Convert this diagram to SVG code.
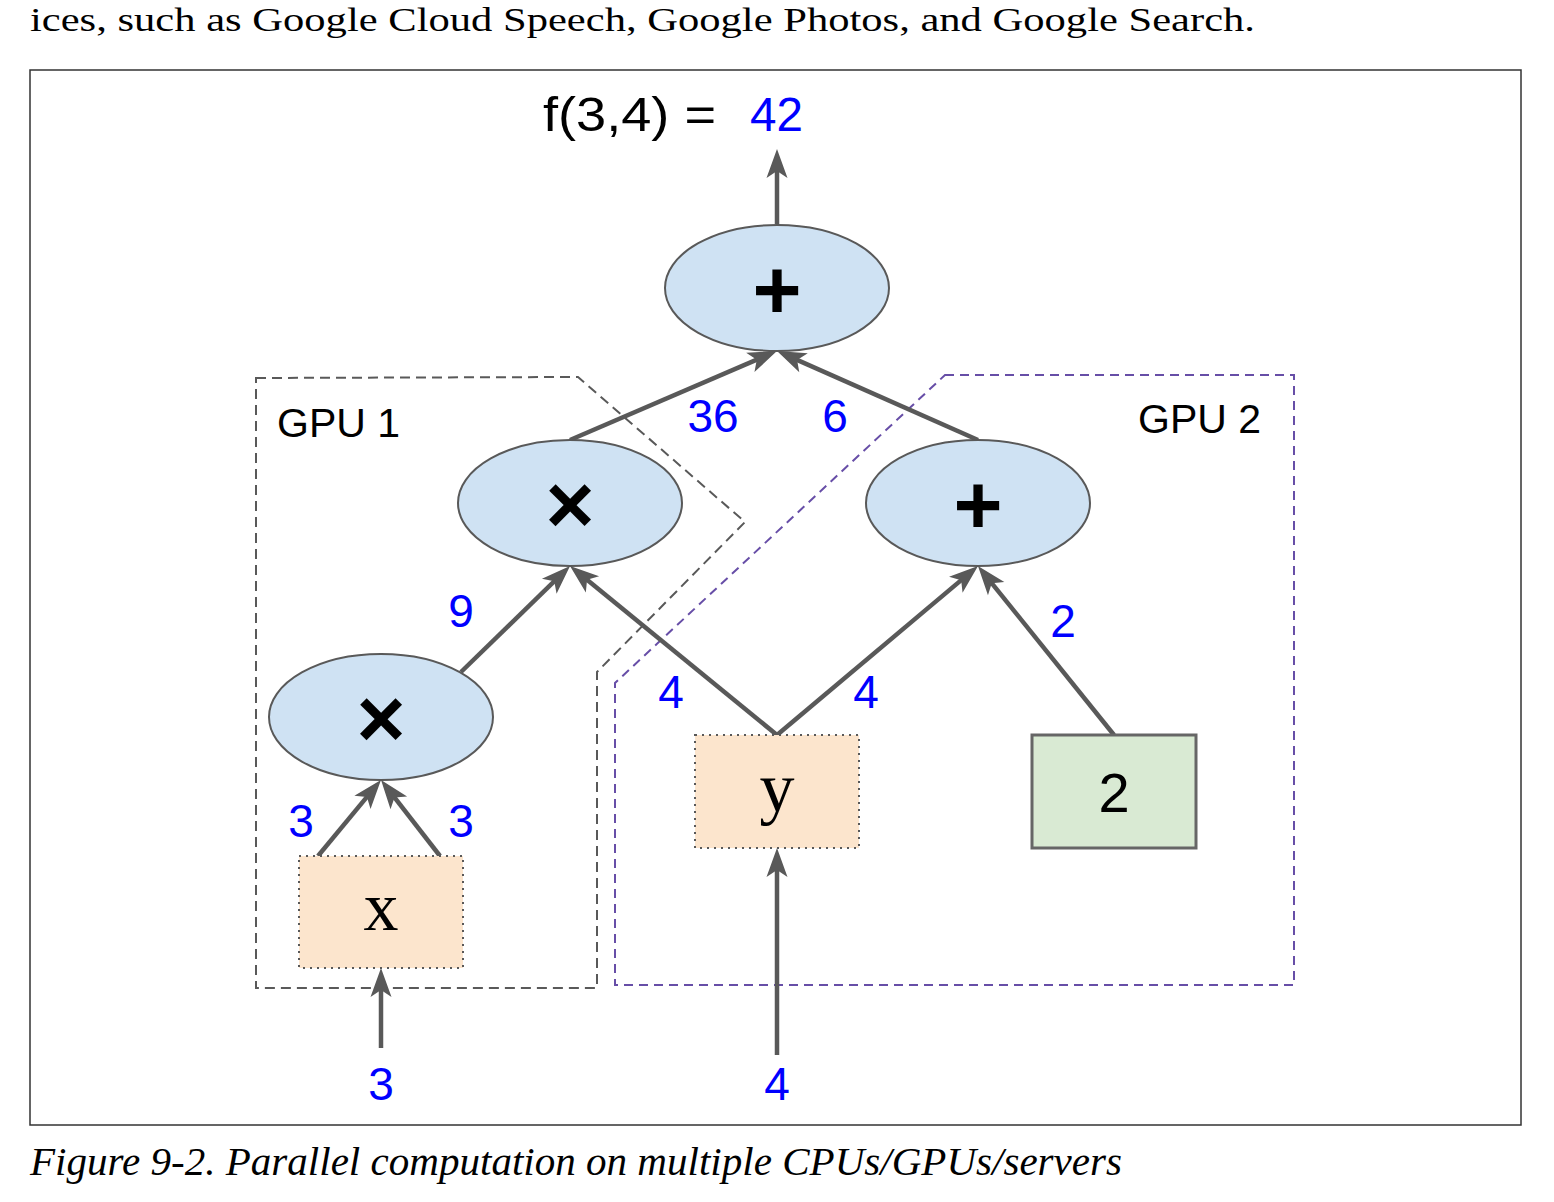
<svg xmlns="http://www.w3.org/2000/svg" width="1554" height="1202" viewBox="0 0 1554 1202">
<style>
.bg{fill:#ffffff}
.frame{fill:none;stroke:#333333;stroke-width:1.5}
.op{fill:#cfe2f3;stroke:#595959;stroke-width:2}
.var{fill:#fce5cd;stroke:#595959;stroke-width:2;stroke-dasharray:2 5}
.const{fill:#d9ead3;stroke:#666666;stroke-width:3}
.edge{fill:none;stroke:#595959;stroke-width:4.5}
.gpu1{fill:none;stroke:#595959;stroke-width:2;stroke-dasharray:10 6}
.gpu2{fill:none;stroke:#674ea7;stroke-width:2;stroke-dasharray:9 6}
.val{font-family:"Liberation Sans",Arial,sans-serif;font-size:46px;fill:#0000ff;text-anchor:middle}
.lbl{font-family:"Liberation Sans",Arial,sans-serif;font-size:41px;fill:#000000}
.sym{font-family:"Liberation Sans",Arial,sans-serif;font-size:84px;font-weight:bold;fill:#000000;text-anchor:middle}
.serif{font-family:"Liberation Serif","Times New Roman",serif;fill:#000000}
</style>
<defs>
<marker id="arr" markerUnits="userSpaceOnUse" viewBox="-10 -12 32 24" markerWidth="32" markerHeight="24" refX="0" refY="0" orient="auto" overflow="visible">
<path d="M20,0 L-9,-10.5 L-2,0 L-9,10.5 Z" fill="#595959"/>
</marker>
</defs>
<rect class="bg" x="0" y="0" width="1554" height="1202"/>
<text class="serif" x="30" y="31" font-size="34" textLength="1225" lengthAdjust="spacingAndGlyphs">ices, such as Google Cloud Speech, Google Photos, and Google Search.</text>
<rect class="frame" x="30" y="70" width="1491" height="1055"/>
<text class="serif" x="30" y="1175" font-size="40" font-style="italic" textLength="1092" lengthAdjust="spacingAndGlyphs">Figure 9-2. Parallel computation on multiple CPUs/GPUs/servers</text>

<g id="gpu1">
<polygon class="gpu1" points="256,378 578,377 745,522 597,672 597,988 256,988"/>
<text class="lbl" x="277" y="437">GPU 1</text>
</g>
<g id="gpu2">
<polygon class="gpu2" points="945,375 1294,375 1294,985 615,985 615,683"/>
<text class="lbl" x="1138" y="433">GPU 2</text>
</g>

<g id="connectors">
<line class="edge" x1="777" y1="224" x2="777" y2="169" marker-end="url(#arr)"/>
<line class="edge" x1="570" y1="440" x2="758.6" y2="358.9" marker-end="url(#arr)"/>
<line class="edge" x1="978" y1="440" x2="795.3" y2="359.1" marker-end="url(#arr)"/>
<line class="edge" x1="461" y1="672" x2="555.7" y2="579.9" marker-end="url(#arr)"/>
<line class="edge" x1="777" y1="735" x2="585.5" y2="578.6" marker-end="url(#arr)"/>
<line class="edge" x1="777" y1="735" x2="962.7" y2="578.9" marker-end="url(#arr)"/>
<line class="edge" x1="1114" y1="735" x2="990.5" y2="581.6" marker-end="url(#arr)"/>
<line class="edge" x1="318" y1="856" x2="368.2" y2="795.4" marker-end="url(#arr)"/>
<line class="edge" x1="440" y1="856" x2="393.3" y2="795.8" marker-end="url(#arr)"/>
<line class="edge" x1="381" y1="1048" x2="381" y2="988" marker-end="url(#arr)"/>
<line class="edge" x1="777" y1="1055" x2="777" y2="868" marker-end="url(#arr)"/>
</g>

<g id="result">
<text x="543" y="131" font-family="'Liberation Sans',Arial,sans-serif" font-size="48" fill="#000000" textLength="173" lengthAdjust="spacingAndGlyphs">f(3,4) =</text>
<text x="750" y="131" font-family="'Liberation Sans',Arial,sans-serif" font-size="48" fill="#0000ff" textLength="53" lengthAdjust="spacingAndGlyphs">42</text>
</g>

<g id="add-top">
<ellipse class="op" cx="777" cy="288" rx="112" ry="63"/>
<text class="sym" x="777" y="319">+</text>
</g>
<g id="mul-upper">
<ellipse class="op" cx="570" cy="503" rx="112" ry="63"/>
<text class="sym" x="570" y="533">×</text>
</g>
<g id="add-right">
<ellipse class="op" cx="978" cy="503" rx="112" ry="63"/>
<text class="sym" x="978" y="534">+</text>
</g>
<g id="mul-lower">
<ellipse class="op" cx="381" cy="717" rx="112" ry="63"/>
<text class="sym" x="381" y="747">×</text>
</g>
<g id="var-x">
<rect class="var" x="299" y="856" width="164" height="112"/>
<text class="serif" x="381" y="930" font-size="70" text-anchor="middle">x</text>
</g>
<g id="var-y">
<rect class="var" x="695" y="735" width="164" height="113"/>
<text class="serif" x="777" y="811" font-size="70" text-anchor="middle">y</text>
</g>
<g id="const-2">
<rect class="const" x="1032" y="735" width="164" height="113"/>
<text x="1114" y="812" font-family="'Liberation Sans',Arial,sans-serif" font-size="56" fill="#000000" text-anchor="middle">2</text>
</g>

<g id="values">
<text class="val" x="713" y="432">36</text>
<text class="val" x="835" y="432">6</text>
<text class="val" x="461" y="627">9</text>
<text class="val" x="671" y="708">4</text>
<text class="val" x="866" y="708">4</text>
<text class="val" x="1063" y="637">2</text>
<text class="val" x="301" y="837">3</text>
<text class="val" x="461" y="837">3</text>
<text class="val" x="381" y="1100">3</text>
<text class="val" x="777" y="1100">4</text>
</g>
</svg>
